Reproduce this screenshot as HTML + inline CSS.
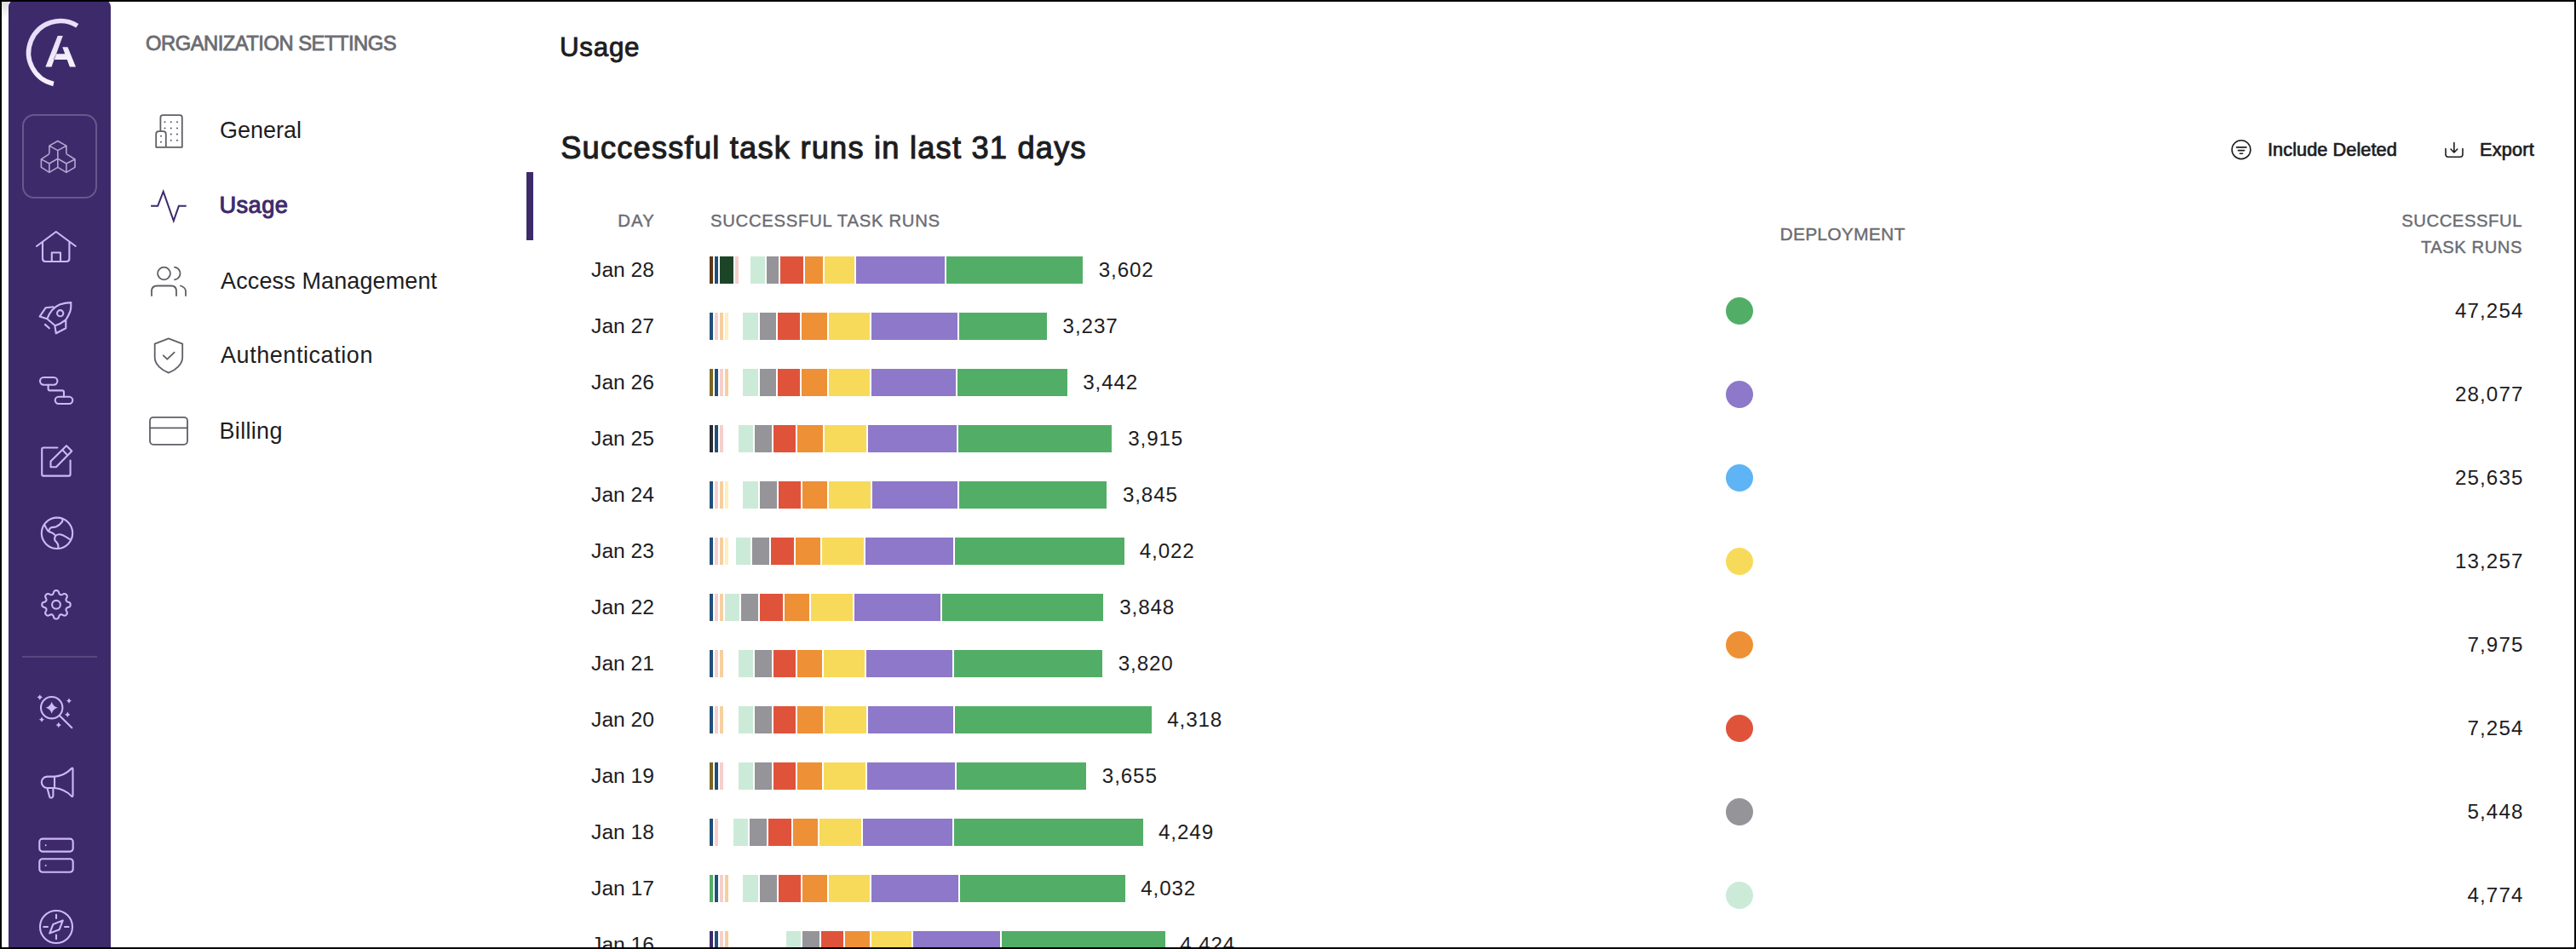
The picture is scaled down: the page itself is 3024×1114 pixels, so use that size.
<!DOCTYPE html>
<html><head><meta charset="utf-8"><title>Usage</title>
<style>
html,body{margin:0;padding:0;background:#fff;}
body{width:3024px;height:1114px;position:relative;overflow:hidden;font-family:"Liberation Sans",sans-serif;}
.t{position:absolute;white-space:nowrap;line-height:1;-webkit-font-smoothing:antialiased;}
svg{position:absolute;left:0;top:0;}
</style></head><body>
<svg width="3024" height="1114" viewBox="0 0 3024 1114">
<defs>
<linearGradient id="lg" x1="0" y1="0" x2="0.4" y2="1"><stop offset="0" stop-color="#e2d8f6"/><stop offset="1" stop-color="#f6f2fc"/></linearGradient>
<linearGradient id="gr" x1="0" y1="0" x2="0" y2="1"><stop offset="0" stop-color="#dcdcdc"/><stop offset="1" stop-color="#fff"/></linearGradient>
</defs>
<rect x="10" y="0" width="120" height="1144" rx="8" fill="#3d2a6b"/>
<rect x="2" y="2" width="8" height="20" fill="url(#gr)"/>
<path d="M90.82 30.28 A37.4 37.4 0 1 0 62.91 98.51" fill="none" stroke="url(#lg)" stroke-width="5.5"/>
<path d="M53.4 78.5 L60.5 78.5 L73.8 42 L67.7 42 Z M73.3 55.3 L79.5 55.3 L89 78.5 L81.9 78.5 Z M65.8 63.3 L76.7 63.3 L79.4 70 L62.9 70 Z" fill="url(#lg)"/>
<rect x="27" y="135" width="86" height="97" rx="13" fill="none" stroke="rgba(255,255,255,0.22)" stroke-width="2"/>
<path d="M67.8 165.5 L57.9 171.1 L67.8 176.6 L77.9 171.1 Z M57.9 171.1 V180.6 M67.8 176.6 V185.7 M77.9 171.1 V180.6" stroke="#b3a8cf" stroke-width="1.6" fill="none" stroke-linejoin="round"/>
<path d="M57.9 180.6 L48.4 186.9 L57.9 192 L67.8 186.3 M48.4 186.9 V196.4 L57.9 202.4 L67.8 196.4 M57.9 192 V202.4" stroke="#b3a8cf" stroke-width="1.6" fill="none" stroke-linejoin="round"/>
<path d="M77.9 180.6 L88 187 L77.9 192 L67.8 186.3 M88 187 V196.4 L77.9 202.4 L67.8 196.4 V186 M77.9 192 V202.4" stroke="#b3a8cf" stroke-width="1.6" fill="none" stroke-linejoin="round"/>
<path d="M43 289 L65.8 272 L88.8 289 M50 284 V303.5 Q50 307 53.5 307 H78 Q81.4 307 81.4 303.5 V284 M60.8 307 V296.5 H71 V307" stroke="#cbbaf3" stroke-width="2.1" fill="none" stroke-linecap="round" stroke-linejoin="round"/>
<path d="M55.3 374.3 C58 367 62 361 70 357.5 C74 356 79 355.2 83.3 355.1 C83.5 360 83 364 82.2 366 C80.5 370 79 373 77.3 375.4 C73 379 69 381 64.7 382.2 Z M62.5 360.3 L53.7 361.2 L46.6 371.6 L55.3 374.3 M77.3 375.4 L77.3 385.3 L65.8 391.3 L64.4 382.4 M52.9 380.9 L57.8 385.3" stroke="#cbbaf3" stroke-width="2.1" fill="none" stroke-linecap="round" stroke-linejoin="round"/>
<circle cx="70.7" cy="367.7" r="3.6" stroke="#cbbaf3" stroke-width="2.1" fill="none" stroke-linecap="round" stroke-linejoin="round"/>
<rect x="47" y="443" width="20.4" height="8.7" rx="4.35" stroke="#cbbaf3" stroke-width="2.1" fill="none" stroke-linecap="round" stroke-linejoin="round"/>
<rect x="64.7" y="465.7" width="20.6" height="8.3" rx="4.15" stroke="#cbbaf3" stroke-width="2.1" fill="none" stroke-linecap="round" stroke-linejoin="round"/>
<path d="M56.6 451.7 V456.4 Q56.6 458.4 58.6 458.4 H73 Q75 458.4 75 460.4 V465.7" stroke="#cbbaf3" stroke-width="2.1" fill="none" stroke-linecap="round" stroke-linejoin="round"/>
<path d="M67.4 525.5 H51 Q49.2 525.5 49.2 527.3 V556.8 Q49.2 558.6 51 558.6 H80.8 Q82.6 558.6 82.6 556.8 V540.5" stroke="#cbbaf3" stroke-width="2.1" fill="none" stroke-linecap="round" stroke-linejoin="round"/>
<path d="M59.5 548.2 V541.4 L78 523.2 L84.3 529.6 L65.9 548.2 Z M73.2 528 L79.5 534.6" stroke="#cbbaf3" stroke-width="2.1" fill="none" stroke-linecap="round" stroke-linejoin="round"/>
<circle cx="67" cy="625.8" r="18.2" stroke="#cbbaf3" stroke-width="2.1" fill="none" stroke-linecap="round" stroke-linejoin="round"/>
<path d="M52.3 616.2 C54 619 55 622.5 57 623.8 C59.5 625 62 625.5 63.4 627 C64.5 628 65 628.5 65.2 629 C64 631 63.7 633 64.6 634.6 C66.5 636.5 68 638 68.3 640 V643.5 M65.2 629 C67 627.5 69 627 71.5 627.5 C75 628.5 79 631 82.6 633.5 M57 623.8 C57.8 621.5 58 620 60 619.3 C62 618.8 64 619 66 618.3 C69 617 71 615 73 612.5 C73.5 611.5 73.5 610.5 73.3 609.5" stroke="#cbbaf3" stroke-width="2.1" fill="none" stroke-linecap="round" stroke-linejoin="round"/>
<path d="M66.00 693.10 L66.65 693.14 L67.30 693.28 L67.92 693.58 L68.48 694.16 L68.92 695.11 L69.27 696.18 L69.61 697.02 L69.98 697.54 L70.40 697.87 L70.85 698.10 L71.32 698.25 L71.85 698.31 L72.49 698.21 L73.32 697.86 L74.32 697.34 L75.31 696.99 L76.11 696.97 L76.76 697.20 L77.32 697.56 L77.81 697.99 L78.24 698.48 L78.60 699.04 L78.83 699.69 L78.81 700.49 L78.46 701.48 L77.94 702.48 L77.59 703.31 L77.49 703.95 L77.55 704.48 L77.70 704.95 L77.93 705.40 L78.26 705.82 L78.78 706.19 L79.62 706.53 L80.69 706.88 L81.64 707.32 L82.22 707.88 L82.52 708.50 L82.66 709.15 L82.70 709.80 L82.66 710.45 L82.52 711.10 L82.22 711.72 L81.64 712.28 L80.69 712.72 L79.62 713.07 L78.78 713.41 L78.26 713.78 L77.93 714.20 L77.70 714.65 L77.55 715.12 L77.49 715.65 L77.59 716.29 L77.94 717.12 L78.46 718.12 L78.81 719.11 L78.83 719.91 L78.60 720.56 L78.24 721.12 L77.81 721.61 L77.32 722.04 L76.76 722.40 L76.11 722.63 L75.31 722.61 L74.32 722.26 L73.32 721.74 L72.49 721.39 L71.85 721.29 L71.32 721.35 L70.85 721.50 L70.40 721.73 L69.98 722.06 L69.61 722.58 L69.27 723.42 L68.92 724.49 L68.48 725.44 L67.92 726.02 L67.30 726.32 L66.65 726.46 L66.00 726.50 L65.35 726.46 L64.70 726.32 L64.08 726.02 L63.52 725.44 L63.08 724.49 L62.73 723.42 L62.39 722.58 L62.02 722.06 L61.60 721.73 L61.15 721.50 L60.68 721.35 L60.15 721.29 L59.51 721.39 L58.68 721.74 L57.68 722.26 L56.69 722.61 L55.89 722.63 L55.24 722.40 L54.68 722.04 L54.19 721.61 L53.76 721.12 L53.40 720.56 L53.17 719.91 L53.19 719.11 L53.54 718.12 L54.06 717.12 L54.41 716.29 L54.51 715.65 L54.45 715.12 L54.30 714.65 L54.07 714.20 L53.74 713.78 L53.22 713.41 L52.38 713.07 L51.31 712.72 L50.36 712.28 L49.78 711.72 L49.48 711.10 L49.34 710.45 L49.30 709.80 L49.34 709.15 L49.48 708.50 L49.78 707.88 L50.36 707.32 L51.31 706.88 L52.38 706.53 L53.22 706.19 L53.74 705.82 L54.07 705.40 L54.30 704.95 L54.45 704.48 L54.51 703.95 L54.41 703.31 L54.06 702.48 L53.54 701.48 L53.19 700.49 L53.17 699.69 L53.40 699.04 L53.76 698.48 L54.19 697.99 L54.68 697.56 L55.24 697.20 L55.89 696.97 L56.69 696.99 L57.68 697.34 L58.68 697.86 L59.51 698.21 L60.15 698.31 L60.68 698.25 L61.15 698.10 L61.60 697.87 L62.02 697.54 L62.39 697.02 L62.73 696.18 L63.08 695.11 L63.52 694.16 L64.08 693.58 L64.70 693.28 L65.35 693.14 L66.00 693.10 Z" stroke="#cbbaf3" stroke-width="2.1" fill="none" stroke-linecap="round" stroke-linejoin="round"/>
<circle cx="66" cy="709.8" r="4.9" stroke="#cbbaf3" stroke-width="2.1" fill="none" stroke-linecap="round" stroke-linejoin="round"/>
<rect x="26" y="770" width="88" height="2" fill="rgba(255,255,255,0.14)"/>
<circle cx="60.7" cy="830.7" r="12.7" stroke="#cbbaf3" stroke-width="2.1" fill="none" stroke-linecap="round" stroke-linejoin="round"/>
<path d="M70.4 840.4 L84.3 854.3" stroke="#cbbaf3" stroke-width="2.1" fill="none" stroke-linecap="round" stroke-linejoin="round"/>
<path d="M60.7 823.7 Q62.24 829.1600000000001 67.7 830.7 Q62.24 832.24 60.7 837.7 Q59.160000000000004 832.24 53.7 830.7 Q59.160000000000004 829.1600000000001 60.7 823.7 ZM46.8 815.3 Q47.504 817.796 50.0 818.5 Q47.504 819.204 46.8 821.7 Q46.096 819.204 43.599999999999994 818.5 Q46.096 817.796 46.8 815.3 ZM81 819.4 Q81.704 821.8960000000001 84.2 822.6 Q81.704 823.304 81 825.8000000000001 Q80.296 823.304 77.8 822.6 Q80.296 821.8960000000001 81 819.4 ZM79.3 835.5999999999999 Q80.00399999999999 838.096 82.5 838.8 Q80.00399999999999 839.5039999999999 79.3 842.0 Q78.596 839.5039999999999 76.1 838.8 Q78.596 838.096 79.3 835.5999999999999 ZM49 841.4 Q49.704 843.8960000000001 52.2 844.6 Q49.704 845.304 49 847.8000000000001 Q48.296 845.304 45.8 844.6 Q48.296 843.8960000000001 49 841.4 ZM68.8 847.8 Q69.50399999999999 850.296 72.0 851 Q69.50399999999999 851.704 68.8 854.2 Q68.096 851.704 65.6 851 Q68.096 850.296 68.8 847.8 Z" fill="#cbbaf3"/>
<path d="M64 911.6 Q76 910.5 84 902 Q85.5 900.8 85.5 903 V933.6 Q85.5 935.8 84 934.6 Q76 926.2 64 925 Z M64 911.6 H55.5 A6.7 6.7 0 0 0 55.5 925 H64 M55.5 925.3 L58.3 935.6 Q59 937 61 936.2 Q62.4 935.5 62.4 934 V925.5" stroke="#cbbaf3" stroke-width="2.1" fill="none" stroke-linecap="round" stroke-linejoin="round"/>
<rect x="46.3" y="984.6" width="39.4" height="15" rx="3.5" stroke="#cbbaf3" stroke-width="2.1" fill="none" stroke-linecap="round" stroke-linejoin="round"/>
<rect x="46.3" y="1008.3" width="39.4" height="15.4" rx="3.5" stroke="#cbbaf3" stroke-width="2.1" fill="none" stroke-linecap="round" stroke-linejoin="round"/>
<circle cx="53.7" cy="992.2" r="1.0" fill="#cbbaf3"/><circle cx="53.7" cy="1016" r="1.0" fill="#cbbaf3"/>
<circle cx="66" cy="1088" r="19" stroke="#cbbaf3" stroke-width="2.1" fill="none" stroke-linecap="round" stroke-linejoin="round"/>
<path d="M66 1073.8 V1078 M66 1097.6 V1102.2 M51.3 1088 H56 M76 1088 H80.6 M73.8 1080.4 L62.4 1085 L58.2 1095.6 L69.6 1091.3 Z" stroke="#cbbaf3" stroke-width="2.1" fill="none" stroke-linecap="round" stroke-linejoin="round"/>
<path d="M188.4 153.5 V138 Q188.4 135.2 191.2 135.2 H211 Q213.8 135.2 213.8 138 V172.8 H183.2 V157.5 Q183.2 154.2 186.5 154.2 H191.5 Q194.8 154.2 194.8 157.5 V172.8" stroke="#5f5f66" stroke-width="1.8" fill="none" stroke-linecap="round" stroke-linejoin="round"/>
<circle cx="193.5" cy="143.3" r="1.05" fill="#5f5f66"/><circle cx="200.8" cy="143.3" r="1.05" fill="#5f5f66"/><circle cx="208" cy="143.3" r="1.05" fill="#5f5f66"/><circle cx="193.5" cy="150.5" r="1.05" fill="#5f5f66"/><circle cx="200.8" cy="150.5" r="1.05" fill="#5f5f66"/><circle cx="208" cy="150.5" r="1.05" fill="#5f5f66"/><circle cx="200.8" cy="157.6" r="1.05" fill="#5f5f66"/><circle cx="208" cy="157.6" r="1.05" fill="#5f5f66"/><circle cx="200.8" cy="164.7" r="1.05" fill="#5f5f66"/><circle cx="208" cy="164.7" r="1.05" fill="#5f5f66"/><circle cx="189" cy="159.8" r="1.05" fill="#5f5f66"/><circle cx="189" cy="166.8" r="1.05" fill="#5f5f66"/>
<path d="M177.1 241.8 H185.2 L191.7 224.8 L203.8 259.2 L209.9 241.8 H218.7" stroke="#3d2a6b" stroke-width="2" fill="none" stroke-linejoin="miter"/>
<circle cx="192.5" cy="321" r="7.4" stroke="#5f5f66" stroke-width="1.8" fill="none" stroke-linecap="round" stroke-linejoin="round"/><path d="M205 313.7 A7.4 7.4 0 0 1 205 328.4 M178 347 V341.9 Q178 335.5 184.5 335.5 H201 Q207 335.5 207 341.9 V347 M212 335.5 Q218 337.5 218 341.9 V347" stroke="#5f5f66" stroke-width="1.8" fill="none" stroke-linecap="round" stroke-linejoin="round"/>
<path d="M197.9 397.4 L181.7 403.6 V419.5 C181.7 428 190 434.5 197.9 437.6 C205.8 434.5 214.2 428 214.2 419.5 V403.6 Z M191.8 417.3 L196.3 421.7 L204.7 413.6" stroke="#5f5f66" stroke-width="1.8" fill="none" stroke-linecap="round" stroke-linejoin="round"/>
<rect x="176" y="489.8" width="44" height="32" rx="4" stroke="#5f5f66" stroke-width="1.8" fill="none" stroke-linecap="round" stroke-linejoin="round"/><path d="M176 502.3 H220" stroke="#5f5f66" stroke-width="1.8" fill="none" stroke-linecap="round" stroke-linejoin="round"/>
<rect x="618" y="202" width="8" height="80" fill="#3d2a6b"/>
<circle cx="2631" cy="175.7" r="10.9" stroke="#1d1d1f" stroke-width="1.6" fill="none" stroke-linecap="round" stroke-linejoin="round"/><path d="M2625.5 172.9 H2637 M2627.4 176.6 H2634.6 M2629.4 180.3 H2632.6" stroke="#1d1d1f" stroke-width="1.6" fill="none" stroke-linecap="round" stroke-linejoin="round"/>
<path d="M2880.9 167.5 V178.5 M2877 175 L2880.9 179 L2884.8 175 M2871 174.5 V181 Q2871 184.3 2874 184.3 H2888 Q2891 184.3 2891 181 V174.5" stroke="#1d1d1f" stroke-width="1.6" fill="none" stroke-linecap="round" stroke-linejoin="round"/>
<rect x="833" y="301" width="4" height="32" fill="#5c3714"/>
<rect x="839" y="301" width="4" height="32" fill="#1f4f7b"/>
<rect x="845" y="301" width="16" height="32" fill="#1c4528"/>
<rect x="863" y="301" width="4" height="32" fill="#f7cfca"/>
<rect x="881" y="301" width="17" height="32" fill="#cbebd8"/>
<rect x="900" y="301" width="14" height="32" fill="#949499"/>
<rect x="916" y="301" width="27" height="32" fill="#e0533b"/>
<rect x="945" y="301" width="21" height="32" fill="#ee9036"/>
<rect x="968" y="301" width="35" height="32" fill="#f8da5b"/>
<rect x="1005" y="301" width="104" height="32" fill="#8d78ca"/>
<rect x="1111" y="301" width="160" height="32" fill="#52ae67"/>
<rect x="833" y="367" width="4" height="32" fill="#1f4f7b"/>
<rect x="839" y="367" width="4" height="32" fill="#f7cfca"/>
<rect x="845" y="367" width="4" height="32" fill="#f6cf9f"/>
<rect x="851" y="367" width="4" height="32" fill="#fdf0bd"/>
<rect x="872" y="367" width="18" height="32" fill="#cbebd8"/>
<rect x="892" y="367" width="19" height="32" fill="#949499"/>
<rect x="913" y="367" width="26" height="32" fill="#e0533b"/>
<rect x="941" y="367" width="30" height="32" fill="#ee9036"/>
<rect x="973" y="367" width="48" height="32" fill="#f8da5b"/>
<rect x="1023" y="367" width="101" height="32" fill="#8d78ca"/>
<rect x="1126" y="367" width="103" height="32" fill="#52ae67"/>
<rect x="833" y="433" width="4" height="32" fill="#7a6520"/>
<rect x="839" y="433" width="4" height="32" fill="#1f4f7b"/>
<rect x="845" y="433" width="4" height="32" fill="#f7cfca"/>
<rect x="851" y="433" width="4" height="32" fill="#f6cf9f"/>
<rect x="872" y="433" width="18" height="32" fill="#cbebd8"/>
<rect x="892" y="433" width="19" height="32" fill="#949499"/>
<rect x="913" y="433" width="26" height="32" fill="#e0533b"/>
<rect x="941" y="433" width="30" height="32" fill="#ee9036"/>
<rect x="973" y="433" width="48" height="32" fill="#f8da5b"/>
<rect x="1023" y="433" width="99" height="32" fill="#8d78ca"/>
<rect x="1124" y="433" width="129" height="32" fill="#52ae67"/>
<rect x="833" y="499" width="4" height="32" fill="#2a2b30"/>
<rect x="839" y="499" width="4" height="32" fill="#1f4f7b"/>
<rect x="845" y="499" width="4" height="32" fill="#f7cfca"/>
<rect x="867" y="499" width="17" height="32" fill="#cbebd8"/>
<rect x="886" y="499" width="20" height="32" fill="#949499"/>
<rect x="908" y="499" width="26" height="32" fill="#e0533b"/>
<rect x="936" y="499" width="30" height="32" fill="#ee9036"/>
<rect x="968" y="499" width="49" height="32" fill="#f8da5b"/>
<rect x="1019" y="499" width="104" height="32" fill="#8d78ca"/>
<rect x="1125" y="499" width="180" height="32" fill="#52ae67"/>
<rect x="833" y="565" width="4" height="32" fill="#1f4f7b"/>
<rect x="839" y="565" width="4" height="32" fill="#f7cfca"/>
<rect x="845" y="565" width="4" height="32" fill="#f6cf9f"/>
<rect x="851" y="565" width="4" height="32" fill="#fdf0bd"/>
<rect x="872" y="565" width="18" height="32" fill="#cbebd8"/>
<rect x="892" y="565" width="20" height="32" fill="#949499"/>
<rect x="914" y="565" width="26" height="32" fill="#e0533b"/>
<rect x="942" y="565" width="29" height="32" fill="#ee9036"/>
<rect x="973" y="565" width="49" height="32" fill="#f8da5b"/>
<rect x="1024" y="565" width="100" height="32" fill="#8d78ca"/>
<rect x="1126" y="565" width="173" height="32" fill="#52ae67"/>
<rect x="833" y="631" width="4" height="32" fill="#1f4f7b"/>
<rect x="839" y="631" width="4" height="32" fill="#f7cfca"/>
<rect x="845" y="631" width="4" height="32" fill="#f6cf9f"/>
<rect x="851" y="631" width="4" height="32" fill="#fdf0bd"/>
<rect x="864" y="631" width="17" height="32" fill="#cbebd8"/>
<rect x="883" y="631" width="20" height="32" fill="#949499"/>
<rect x="905" y="631" width="27" height="32" fill="#e0533b"/>
<rect x="934" y="631" width="29" height="32" fill="#ee9036"/>
<rect x="965" y="631" width="49" height="32" fill="#f8da5b"/>
<rect x="1016" y="631" width="103" height="32" fill="#8d78ca"/>
<rect x="1121" y="631" width="199" height="32" fill="#52ae67"/>
<rect x="833" y="697" width="4" height="32" fill="#1f4f7b"/>
<rect x="839" y="697" width="4" height="32" fill="#f7cfca"/>
<rect x="845" y="697" width="4" height="32" fill="#f6cf9f"/>
<rect x="851" y="697" width="17" height="32" fill="#cbebd8"/>
<rect x="870" y="697" width="20" height="32" fill="#949499"/>
<rect x="892" y="697" width="27" height="32" fill="#e0533b"/>
<rect x="921" y="697" width="29" height="32" fill="#ee9036"/>
<rect x="952" y="697" width="49" height="32" fill="#f8da5b"/>
<rect x="1003" y="697" width="101" height="32" fill="#8d78ca"/>
<rect x="1106" y="697" width="189" height="32" fill="#52ae67"/>
<rect x="833" y="763" width="4" height="32" fill="#1f4f7b"/>
<rect x="839" y="763" width="4" height="32" fill="#f7cfca"/>
<rect x="845" y="763" width="4" height="32" fill="#f6cf9f"/>
<rect x="867" y="763" width="17" height="32" fill="#cbebd8"/>
<rect x="886" y="763" width="20" height="32" fill="#949499"/>
<rect x="908" y="763" width="26" height="32" fill="#e0533b"/>
<rect x="936" y="763" width="29" height="32" fill="#ee9036"/>
<rect x="967" y="763" width="48" height="32" fill="#f8da5b"/>
<rect x="1017" y="763" width="101" height="32" fill="#8d78ca"/>
<rect x="1120" y="763" width="174" height="32" fill="#52ae67"/>
<rect x="833" y="829" width="4" height="32" fill="#1f4f7b"/>
<rect x="839" y="829" width="4" height="32" fill="#f7cfca"/>
<rect x="845" y="829" width="4" height="32" fill="#f6cf9f"/>
<rect x="867" y="829" width="17" height="32" fill="#cbebd8"/>
<rect x="886" y="829" width="20" height="32" fill="#949499"/>
<rect x="908" y="829" width="26" height="32" fill="#e0533b"/>
<rect x="936" y="829" width="30" height="32" fill="#ee9036"/>
<rect x="968" y="829" width="49" height="32" fill="#f8da5b"/>
<rect x="1019" y="829" width="100" height="32" fill="#8d78ca"/>
<rect x="1121" y="829" width="231" height="32" fill="#52ae67"/>
<rect x="833" y="895" width="4" height="32" fill="#7a6520"/>
<rect x="839" y="895" width="4" height="32" fill="#1f4f7b"/>
<rect x="845" y="895" width="4" height="32" fill="#f7cfca"/>
<rect x="867" y="895" width="17" height="32" fill="#cbebd8"/>
<rect x="886" y="895" width="20" height="32" fill="#949499"/>
<rect x="908" y="895" width="26" height="32" fill="#e0533b"/>
<rect x="936" y="895" width="29" height="32" fill="#ee9036"/>
<rect x="967" y="895" width="49" height="32" fill="#f8da5b"/>
<rect x="1018" y="895" width="103" height="32" fill="#8d78ca"/>
<rect x="1123" y="895" width="152" height="32" fill="#52ae67"/>
<rect x="833" y="961" width="4" height="32" fill="#1f4f7b"/>
<rect x="839" y="961" width="4" height="32" fill="#f7cfca"/>
<rect x="861" y="961" width="17" height="32" fill="#cbebd8"/>
<rect x="880" y="961" width="20" height="32" fill="#949499"/>
<rect x="902" y="961" width="27" height="32" fill="#e0533b"/>
<rect x="931" y="961" width="29" height="32" fill="#ee9036"/>
<rect x="962" y="961" width="49" height="32" fill="#f8da5b"/>
<rect x="1013" y="961" width="105" height="32" fill="#8d78ca"/>
<rect x="1120" y="961" width="222" height="32" fill="#52ae67"/>
<rect x="833" y="1027" width="4" height="32" fill="#52ae67"/>
<rect x="839" y="1027" width="4" height="32" fill="#1f4f7b"/>
<rect x="845" y="1027" width="4" height="32" fill="#f7cfca"/>
<rect x="851" y="1027" width="4" height="32" fill="#f6cf9f"/>
<rect x="872" y="1027" width="18" height="32" fill="#cbebd8"/>
<rect x="892" y="1027" width="20" height="32" fill="#949499"/>
<rect x="914" y="1027" width="26" height="32" fill="#e0533b"/>
<rect x="942" y="1027" width="29" height="32" fill="#ee9036"/>
<rect x="973" y="1027" width="48" height="32" fill="#f8da5b"/>
<rect x="1023" y="1027" width="102" height="32" fill="#8d78ca"/>
<rect x="1127" y="1027" width="194" height="32" fill="#52ae67"/>
<rect x="833" y="1093" width="4" height="32" fill="#3d2a6b"/>
<rect x="839" y="1093" width="4" height="32" fill="#1f4f7b"/>
<rect x="845" y="1093" width="4" height="32" fill="#f7cfca"/>
<rect x="851" y="1093" width="4" height="32" fill="#f6cf9f"/>
<rect x="923" y="1093" width="17" height="32" fill="#cbebd8"/>
<rect x="942" y="1093" width="20" height="32" fill="#949499"/>
<rect x="964" y="1093" width="26" height="32" fill="#e0533b"/>
<rect x="992" y="1093" width="29" height="32" fill="#ee9036"/>
<rect x="1023" y="1093" width="47" height="32" fill="#f8da5b"/>
<rect x="1072" y="1093" width="102" height="32" fill="#8d78ca"/>
<rect x="1176" y="1093" width="192" height="32" fill="#52ae67"/>
<circle cx="2042" cy="365" r="16" fill="#52ae67"/>
<circle cx="2042" cy="463" r="16" fill="#8d78ca"/>
<circle cx="2042" cy="561" r="16" fill="#5fb4f5"/>
<circle cx="2042" cy="659" r="16" fill="#f8da5b"/>
<circle cx="2042" cy="757" r="16" fill="#ee9036"/>
<circle cx="2042" cy="855" r="16" fill="#e0533b"/>
<circle cx="2042" cy="953" r="16" fill="#949499"/>
<circle cx="2042" cy="1051" r="16" fill="#cbebd8"/>
</svg>
<div class="t" style="font-size:23.77px;top:38.80px;color:#6b6c72;letter-spacing:-0.5px;-webkit-text-stroke:0.8px #6b6c72;left:171.00px;">ORGANIZATION SETTINGS</div>
<div class="t" style="font-size:26.96px;top:140.39px;color:#1d1d1f;left:258.00px;">General</div>
<div class="t" style="font-size:27.25px;top:227.34px;color:#3d2a6b;letter-spacing:0.4px;-webkit-text-stroke:1.0px #3d2a6b;left:257.50px;">Usage</div>
<div class="t" style="font-size:26.96px;top:317.29px;color:#1d1d1f;letter-spacing:0.15px;left:259.00px;">Access Management</div>
<div class="t" style="font-size:26.96px;top:404.19px;color:#1d1d1f;letter-spacing:0.58px;left:259.00px;">Authentication</div>
<div class="t" style="font-size:26.96px;top:493.09px;color:#1d1d1f;letter-spacing:0.33px;left:257.50px;">Billing</div>
<div class="t" style="font-size:31.30px;top:39.59px;color:#1d1d1f;letter-spacing:0.75px;-webkit-text-stroke:0.9px #1d1d1f;left:657.00px;">Usage</div>
<div class="t" style="font-size:36.23px;top:155.50px;color:#1d1d1f;letter-spacing:1.22px;-webkit-text-stroke:1.1px #1d1d1f;left:658.20px;">Successful task runs in last 31 days</div>
<div class="t" style="font-size:21.74px;top:164.82px;color:#1d1d1f;letter-spacing:0.05px;-webkit-text-stroke:0.7px #1d1d1f;left:2662.00px;">Include Deleted</div>
<div class="t" style="font-size:21.74px;top:164.82px;color:#1d1d1f;letter-spacing:0.2px;-webkit-text-stroke:0.7px #1d1d1f;left:2911.00px;">Export</div>
<div class="t" style="font-size:20.29px;top:248.55px;color:#6b6c72;letter-spacing:1.2px;-webkit-text-stroke:0.4px #6b6c72;right:2255.00px;">DAY</div>
<div class="t" style="font-size:20.29px;top:248.55px;color:#6b6c72;letter-spacing:0.72px;-webkit-text-stroke:0.4px #6b6c72;left:834.00px;">SUCCESSFUL TASK RUNS</div>
<div class="t" style="font-size:21.01px;top:264.34px;color:#6b6c72;letter-spacing:0.23px;-webkit-text-stroke:0.4px #6b6c72;left:2089.50px;">DEPLOYMENT</div>
<div class="t" style="font-size:20.29px;top:248.55px;color:#6b6c72;letter-spacing:0.54px;-webkit-text-stroke:0.4px #6b6c72;right:63.00px;">SUCCESSFUL</div>
<div class="t" style="font-size:20.29px;top:280.25px;color:#6b6c72;letter-spacing:0.5px;-webkit-text-stroke:0.4px #6b6c72;right:63.00px;">TASK RUNS</div>
<div class="t" style="font-size:24.64px;top:304.86px;color:#1d1d1f;right:2256.00px;">Jan 28</div>
<div class="t" style="font-size:24.20px;top:305.23px;color:#1d1d1f;letter-spacing:0.9px;left:1289.70px;">3,602</div>
<div class="t" style="font-size:24.64px;top:370.86px;color:#1d1d1f;right:2256.00px;">Jan 27</div>
<div class="t" style="font-size:24.20px;top:371.23px;color:#1d1d1f;letter-spacing:0.9px;left:1247.60px;">3,237</div>
<div class="t" style="font-size:24.64px;top:436.86px;color:#1d1d1f;right:2256.00px;">Jan 26</div>
<div class="t" style="font-size:24.20px;top:437.23px;color:#1d1d1f;letter-spacing:0.9px;left:1271.20px;">3,442</div>
<div class="t" style="font-size:24.64px;top:502.86px;color:#1d1d1f;right:2256.00px;">Jan 25</div>
<div class="t" style="font-size:24.20px;top:503.23px;color:#1d1d1f;letter-spacing:0.9px;left:1324.20px;">3,915</div>
<div class="t" style="font-size:24.64px;top:568.86px;color:#1d1d1f;right:2256.00px;">Jan 24</div>
<div class="t" style="font-size:24.20px;top:569.23px;color:#1d1d1f;letter-spacing:0.9px;left:1317.90px;">3,845</div>
<div class="t" style="font-size:24.64px;top:634.86px;color:#1d1d1f;right:2256.00px;">Jan 23</div>
<div class="t" style="font-size:24.20px;top:635.23px;color:#1d1d1f;letter-spacing:0.9px;left:1337.70px;">4,022</div>
<div class="t" style="font-size:24.64px;top:700.86px;color:#1d1d1f;right:2256.00px;">Jan 22</div>
<div class="t" style="font-size:24.20px;top:701.23px;color:#1d1d1f;letter-spacing:0.9px;left:1314.20px;">3,848</div>
<div class="t" style="font-size:24.64px;top:766.86px;color:#1d1d1f;right:2256.00px;">Jan 21</div>
<div class="t" style="font-size:24.20px;top:767.23px;color:#1d1d1f;letter-spacing:0.9px;left:1312.70px;">3,820</div>
<div class="t" style="font-size:24.64px;top:832.86px;color:#1d1d1f;right:2256.00px;">Jan 20</div>
<div class="t" style="font-size:24.20px;top:833.23px;color:#1d1d1f;letter-spacing:0.9px;left:1370.20px;">4,318</div>
<div class="t" style="font-size:24.64px;top:898.86px;color:#1d1d1f;right:2256.00px;">Jan 19</div>
<div class="t" style="font-size:24.20px;top:899.23px;color:#1d1d1f;letter-spacing:0.9px;left:1293.80px;">3,655</div>
<div class="t" style="font-size:24.64px;top:964.86px;color:#1d1d1f;right:2256.00px;">Jan 18</div>
<div class="t" style="font-size:24.20px;top:965.23px;color:#1d1d1f;letter-spacing:0.9px;left:1360.00px;">4,249</div>
<div class="t" style="font-size:24.64px;top:1030.86px;color:#1d1d1f;right:2256.00px;">Jan 17</div>
<div class="t" style="font-size:24.20px;top:1031.23px;color:#1d1d1f;letter-spacing:0.9px;left:1339.20px;">4,032</div>
<div class="t" style="font-size:24.64px;top:1096.86px;color:#1d1d1f;right:2256.00px;">Jan 16</div>
<div class="t" style="font-size:24.20px;top:1097.23px;color:#1d1d1f;letter-spacing:0.9px;left:1385.20px;">4,424</div>
<div class="t" style="font-size:24.20px;top:353.03px;color:#1d1d1f;letter-spacing:1.1px;right:61.50px;">47,254</div>
<div class="t" style="font-size:24.20px;top:451.03px;color:#1d1d1f;letter-spacing:1.1px;right:61.50px;">28,077</div>
<div class="t" style="font-size:24.20px;top:549.03px;color:#1d1d1f;letter-spacing:1.1px;right:61.50px;">25,635</div>
<div class="t" style="font-size:24.20px;top:647.03px;color:#1d1d1f;letter-spacing:1.1px;right:61.50px;">13,257</div>
<div class="t" style="font-size:24.20px;top:745.03px;color:#1d1d1f;letter-spacing:1.1px;right:61.50px;">7,975</div>
<div class="t" style="font-size:24.20px;top:843.03px;color:#1d1d1f;letter-spacing:1.1px;right:61.50px;">7,254</div>
<div class="t" style="font-size:24.20px;top:941.03px;color:#1d1d1f;letter-spacing:1.1px;right:61.50px;">5,448</div>
<div class="t" style="font-size:24.20px;top:1039.03px;color:#1d1d1f;letter-spacing:1.1px;right:61.50px;">4,774</div>
<div style="position:absolute;left:0;top:0;width:3020px;height:1110px;border:2px solid #000;"></div>
</body></html>
